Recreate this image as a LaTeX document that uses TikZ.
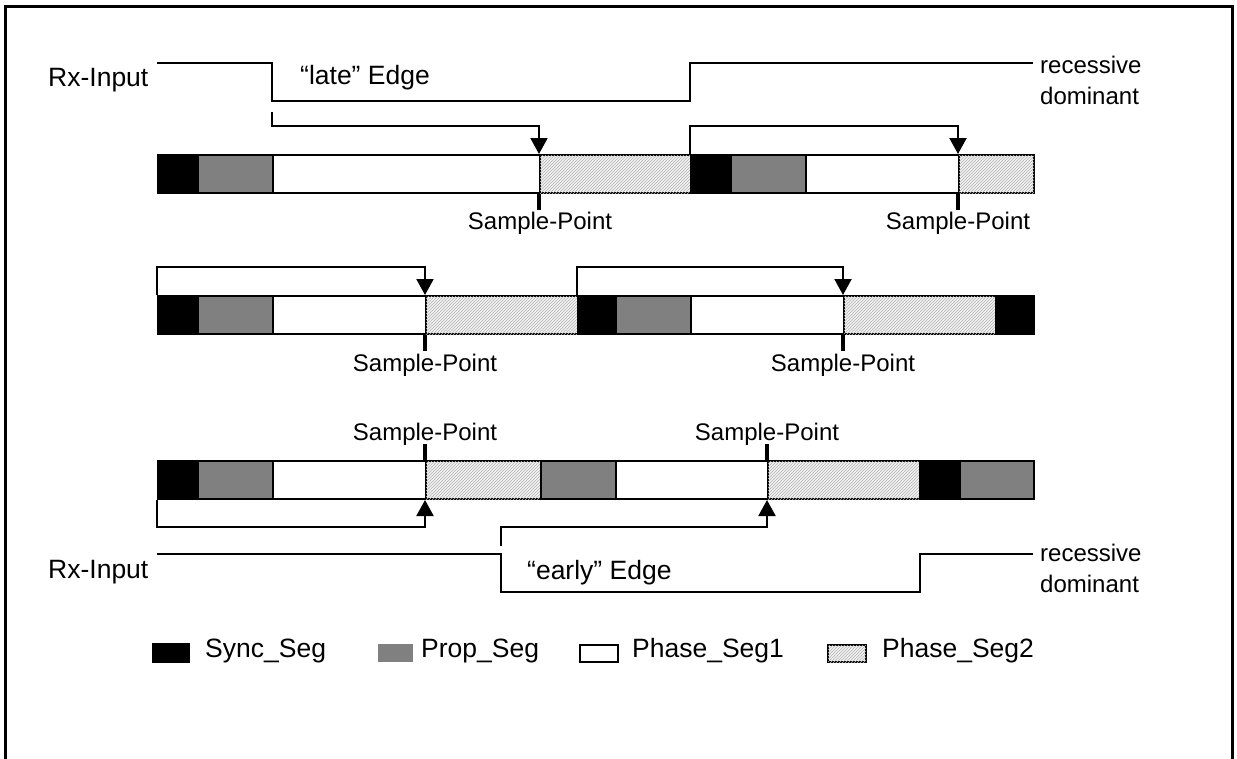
\documentclass[tikz,border=0pt]{standalone}
\usepackage{fontspec}
\setmainfont{Liberation Sans}
\usetikzlibrary{arrows.meta,patterns}
\newcommand\seg[5]{\node[#5,minimum width={(#3-#2)*1pt}] (#1) at (#2,#4) {};}
\begin{document}
\begin{tikzpicture}[x=1pt,y=-1pt,
  segbox/.style={draw,line width=2pt,inner sep=0pt,minimum height=38pt,anchor=north west},
  sync/.style={segbox,fill=black},
  prop/.style={segbox,fill=black!50},
  ph1/.style={segbox,fill=white},
  ph2/.style={segbox,fill=gray!12,postaction={pattern=north east lines,pattern color=gray!55}},
  sig/.style={line width=2pt},
  arr/.style={line width=2pt,-{Triangle[width=17pt,length=16pt]}},
  tickmark/.style={line width=3.5pt},
  lbl/.style={font=\fontsize{24}{28}\selectfont,inner sep=0pt},
  big/.style={font=\fontsize{26.5}{30}\selectfont,inner sep=0pt},
  frame/.style={line width=3pt}]
\useasboundingbox (0,0) rectangle (1237,758);
\fill[white] (0,0) rectangle (1237,758);
\draw[frame] (5,775) -- (5,6) -- (1232,6) -- (1232,775);

% Row 1
\seg{a1}{157}{197}{154}{sync}
\seg{a2}{197}{272}{154}{prop}
\seg{a3}{272}{539}{154}{ph1}
\seg{a4}{539}{690}{154}{ph2}
\seg{a5}{690}{730}{154}{sync}
\seg{a6}{730}{805}{154}{prop}
\seg{a7}{805}{958}{154}{ph1}
\seg{a8}{958}{1033}{154}{ph2}

% Row 2
\seg{b1}{157}{197}{295}{sync}
\seg{b2}{197}{272}{295}{prop}
\seg{b3}{272}{425}{295}{ph1}
\seg{b4}{425}{577}{295}{ph2}
\seg{b5}{577}{615}{295}{sync}
\seg{b6}{615}{690}{295}{prop}
\seg{b7}{690}{843}{295}{ph1}
\seg{b8}{843}{995}{295}{ph2}
\seg{b9}{995}{1033}{295}{sync}

% Row 3
\seg{c1}{157}{197}{460}{sync}
\seg{c2}{197}{272}{460}{prop}
\seg{c3}{272}{425}{460}{ph1}
\seg{c4}{425}{540}{460}{ph2}
\seg{c5}{540}{615}{460}{prop}
\seg{c6}{615}{767}{460}{ph1}
\seg{c7}{767}{919}{460}{ph2}
\seg{c8}{919}{959}{460}{sync}
\seg{c9}{959}{1033}{460}{prop}

% Texts
\node[big,anchor=west] (rx1) at (48,80) {Rx-Input};
\node[big,anchor=west] (late) at (300,78) {“late” Edge};
\node[lbl,anchor=west] (rec1) at (1040,65) {recessive};
\node[lbl,anchor=west] (dom1) at (1040,96) {dominant};
\node[big,anchor=west] (rx2) at (48,572) {Rx-Input};
\node[big,anchor=west] (early) at (527,573) {“early” Edge};
\node[lbl,anchor=west] (rec2) at (1040,553) {recessive};
\node[lbl,anchor=west] (dom2) at (1040,584) {dominant};

% Rx signals
\coordinate (s1) at (157,63);
\coordinate (s2) at (157,554);
\draw[sig] (s1) -- (272,63) -- (272,101) -- (690,101) -- (690,63) -- (1033,63);
\draw[sig] (s2) -- (501,554) -- (501,592) -- (920,592) -- (920,554) -- (1033,554);

% Arrows
\coordinate (e1) at (272,112);
\coordinate (e2) at (501,546);
\draw[arr] (e1) -- (272,126) -| (a4.north west);
\draw[arr] (a5.north west) -- (690,126) -| (a8.north west);
\draw[arr] (b1.north west) -- (157,267) -| (b4.north west);
\draw[arr] (b5.north west) -- (577,267) -| (b8.north west);
\draw[arr] (c1.south west) -- (157,527) -| (c4.south west);
\draw[arr] (e2) -- (501,527) -| (c7.south west);

% Sample points
\draw[tickmark] (a4.south west) -- ++(0,16);
\draw[tickmark] (a8.south west) -- ++(0,16);
\draw[tickmark] (b4.south west) -- ++(0,16);
\draw[tickmark] (b8.south west) -- ++(0,16);
\draw[tickmark] (c4.north west) -- ++(0,-16);
\draw[tickmark] (c7.north west) -- ++(0,-16);
\node[lbl] (sp1) at (540,223) {Sample-Point};
\node[lbl] (sp2) at (958,223) {Sample-Point};
\node[lbl] (sp3) at (425,365) {Sample-Point};
\node[lbl] (sp4) at (843,365) {Sample-Point};
\node[lbl] (sp5) at (425,434) {Sample-Point};
\node[lbl] (sp6) at (767,434) {Sample-Point};

% Legend
\node[sync,minimum width=36pt,minimum height=18pt] (l1) at (152,643) {};
\node[big,anchor=west] (t1) at (205,651) {Sync\_Seg};
\node[prop,draw=none,minimum width=35pt,minimum height=18pt] (l2) at (377,643) {};
\node[big,anchor=west] (t2) at (421,651) {Prop\_Seg};
\node[ph1,minimum width=38pt,minimum height=17pt] (l3) at (579,644) {};
\node[big,anchor=west] (t3) at (632,651) {Phase\_Seg1};
\node[ph2,minimum width=38pt,minimum height=17pt] (l4) at (827,644) {};
\node[big,anchor=west] (t4) at (882,651) {Phase\_Seg2};
\end{tikzpicture}
\end{document}
